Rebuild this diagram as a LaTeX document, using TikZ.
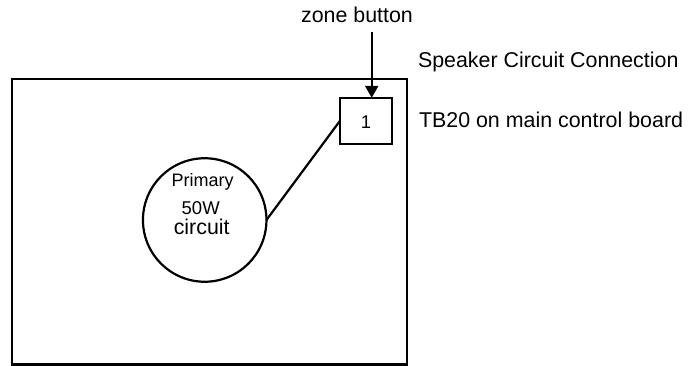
\documentclass[tikz,border=0pt]{standalone}
\usepackage{fontspec}
\setmainfont{Liberation Sans}
\usetikzlibrary{arrows.meta}
\begin{document}
\begin{tikzpicture}[x=1pt,y=-1pt,
  every node/.style={inner sep=0pt,outer sep=0pt},
  lbl/.style={font=\fontsize{21.4}{25}\selectfont},
  small/.style={font=\fontsize{18.5}{22}\selectfont},
  wire/.style={line width=2.2pt},
  arr/.style={line width=2.2pt,-{Triangle[width=13pt,length=12pt]}}]
\useasboundingbox (0,0) rectangle (691,366);
\draw[wire] (11.7,79) rectangle (407,364.5);
\node[draw,line width=2.2pt,minimum width=52pt,minimum height=46pt] (box) at (366,120.8) {};
\node[small] (one) at (366,122) {1};
\node[draw,circle,line width=2.2pt,minimum size=123.5pt] (circ) at (204.7,220) {};
\node[font=\fontsize{18}{22}\selectfont] (prim) at (202.7,181.7) {Primary};
\node[small] (fifty) at (200.7,208) {50W};
\node[lbl] (circuit) at (201.7,226.7) {circuit};
\draw[wire] (circ.east) -- (box.west);
\node[lbl] (zone) at (357,15) {zone button};
\coordinate (zb) at (371.7,32);
\draw[arr] (zb) -- (zb |- box.north);
\node[lbl,anchor=west] (spk) at (418,62) {Speaker Circuit Connection};
\node[lbl,anchor=west] (tb) at (419,120) {TB20 on main control board};
\end{tikzpicture}
\end{document}
